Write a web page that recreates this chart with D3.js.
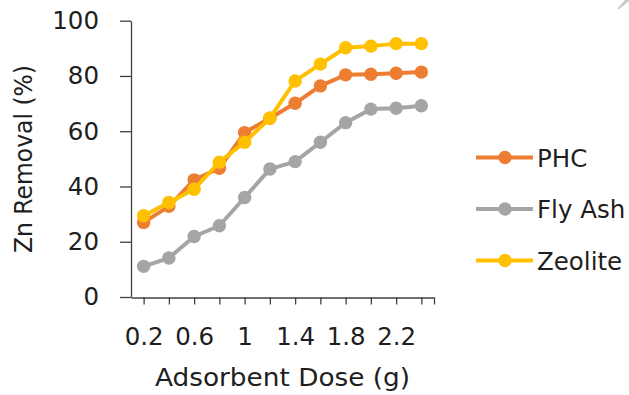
<!DOCTYPE html>
<html>
<head>
<meta charset="utf-8">
<script src="https://cdn.jsdelivr.net/npm/d3@7"></script>
<style>
  html, body { margin: 0; padding: 0; background: #fff; }
  svg { display: block; }
  text { font-family: "DejaVu Sans", sans-serif; fill: #1e1e1e; }
</style>
</head>
<body>
<svg id="chart" width="629" height="395"></svg>
<script>
// Adsorbent dose (g) and zinc removal (%) for each adsorbent
const doses   = [0.2, 0.4, 0.6, 0.8, 1.0, 1.2, 1.4, 1.6, 1.8, 2.0, 2.2, 2.4];
const phc     = [27.0, 32.8, 42.4, 46.6, 59.5, 64.7, 70.1, 76.4, 80.4, 80.6, 81.0, 81.4];
const flyAsh  = [11.1, 14.1, 21.9, 25.8, 36.0, 46.3, 49.0, 56.0, 63.1, 68.0, 68.3, 69.2];
const zeolite = [29.4, 34.2, 39.0, 48.8, 56.0, 64.7, 78.2, 84.3, 90.2, 90.8, 91.7, 91.7];

const seriesNames  = ["PHC", "Fly Ash", "Zeolite"];
const seriesColors = ["#ED7D31", "#A5A5A5", "#FFC000"];
const yTicks = [0, 20, 40, 60, 80, 100];
const xTickLabels = [0.2, 0.6, 1.0, 1.4, 1.8, 2.2];

const series = [phc, flyAsh, zeolite].map((vals, i) => ({
  name: seriesNames[i],
  color: seriesColors[i],
  points: doses.map((d, j) => ({ x: d, y: vals[j] }))
}));

const svg = d3.select("#chart");
const axisColor = "#404040";
const fontSize = 24.5;
const font = "DejaVu Sans, sans-serif";

const x = d3.scaleLinear().domain([0.1, 2.5]).range([131, 434]);
const y = d3.scaleLinear().domain([0, 100]).range([297, 20.7]);

// Y axis
const yAxis = svg.append("g").attr("transform", "translate(131,0)")
  .call(d3.axisLeft(y).tickValues(yTicks).tickSize(11).tickSizeOuter(0).tickPadding(21));
yAxis.select(".domain").attr("stroke", axisColor).attr("stroke-width", 1.3);
yAxis.selectAll(".tick line").attr("stroke", axisColor).attr("stroke-width", 1.3);
yAxis.selectAll(".tick text")
  .attr("font-size", fontSize).attr("font-family", font).attr("fill", "#1e1e1e");

// X axis: a tick at every dose plus the closing tick, labels every other dose
const xAxis = svg.append("g").attr("transform", "translate(0,297.5)")
  .call(d3.axisBottom(x).tickValues(doses.concat([2.5])).tickSize(7).tickSizeOuter(0)
    .tickFormat(d => xTickLabels.some(v => Math.abs(v - d) < 1e-9) ? d3.format("~g")(d) : ""));
xAxis.select(".domain").attr("stroke", axisColor).attr("stroke-width", 1.3);
xAxis.selectAll(".tick line").attr("stroke", axisColor).attr("stroke-width", 1.3);
xAxis.selectAll(".tick text")
  .attr("y", 47.3).attr("dy", 0)
  .attr("font-size", fontSize).attr("font-family", font).attr("fill", "#1e1e1e");

// Axis titles
svg.append("text")
  .attr("x", 282.5).attr("y", 385.5)
  .attr("text-anchor", "middle").attr("font-size", fontSize)
  .attr("textLength", 255).attr("lengthAdjust", "spacingAndGlyphs")
  .text("Adsorbent Dose (g)");

svg.append("text")
  .attr("transform", "translate(31.5,159) rotate(-90)")
  .attr("text-anchor", "middle").attr("font-size", fontSize)
  .attr("textLength", 188).attr("lengthAdjust", "spacingAndGlyphs")
  .text("Zn Removal (%)");

// Series lines and markers
const line = d3.line().x(d => x(d.x)).y(d => y(d.y));
const g = svg.append("g");
series.forEach(s => {
  const sg = g.append("g");
  sg.append("path")
    .attr("d", line(s.points))
    .attr("fill", "none").attr("stroke", s.color)
    .attr("stroke-width", 4).attr("stroke-linejoin", "round");
  sg.selectAll("circle").data(s.points).join("circle")
    .attr("cx", d => x(d.x)).attr("cy", d => y(d.y))
    .attr("r", 6.7).attr("fill", s.color);
});

// Legend
const legend = svg.append("g");
const legendRows = [157.5, 209, 260.5];
series.forEach((s, i) => {
  const row = legend.append("g").attr("transform", `translate(0,${legendRows[i]})`);
  row.append("line").attr("x1", 476).attr("x2", 533).attr("y1", 0).attr("y2", 0)
    .attr("stroke", s.color).attr("stroke-width", 4);
  row.append("circle").attr("cx", 505).attr("cy", 0).attr("r", 6.7).attr("fill", s.color);
  row.append("text").attr("x", 537).attr("y", 9).attr("font-size", fontSize).text(s.name);
});

// Small corner mark
svg.append("path")
  .attr("d", "M618,9 L629,0 L626,0 Z")
  .attr("fill", "#c8c8c8").attr("stroke", "#c8c8c8").attr("stroke-width", 1.5);
</script>
</body>
</html>
